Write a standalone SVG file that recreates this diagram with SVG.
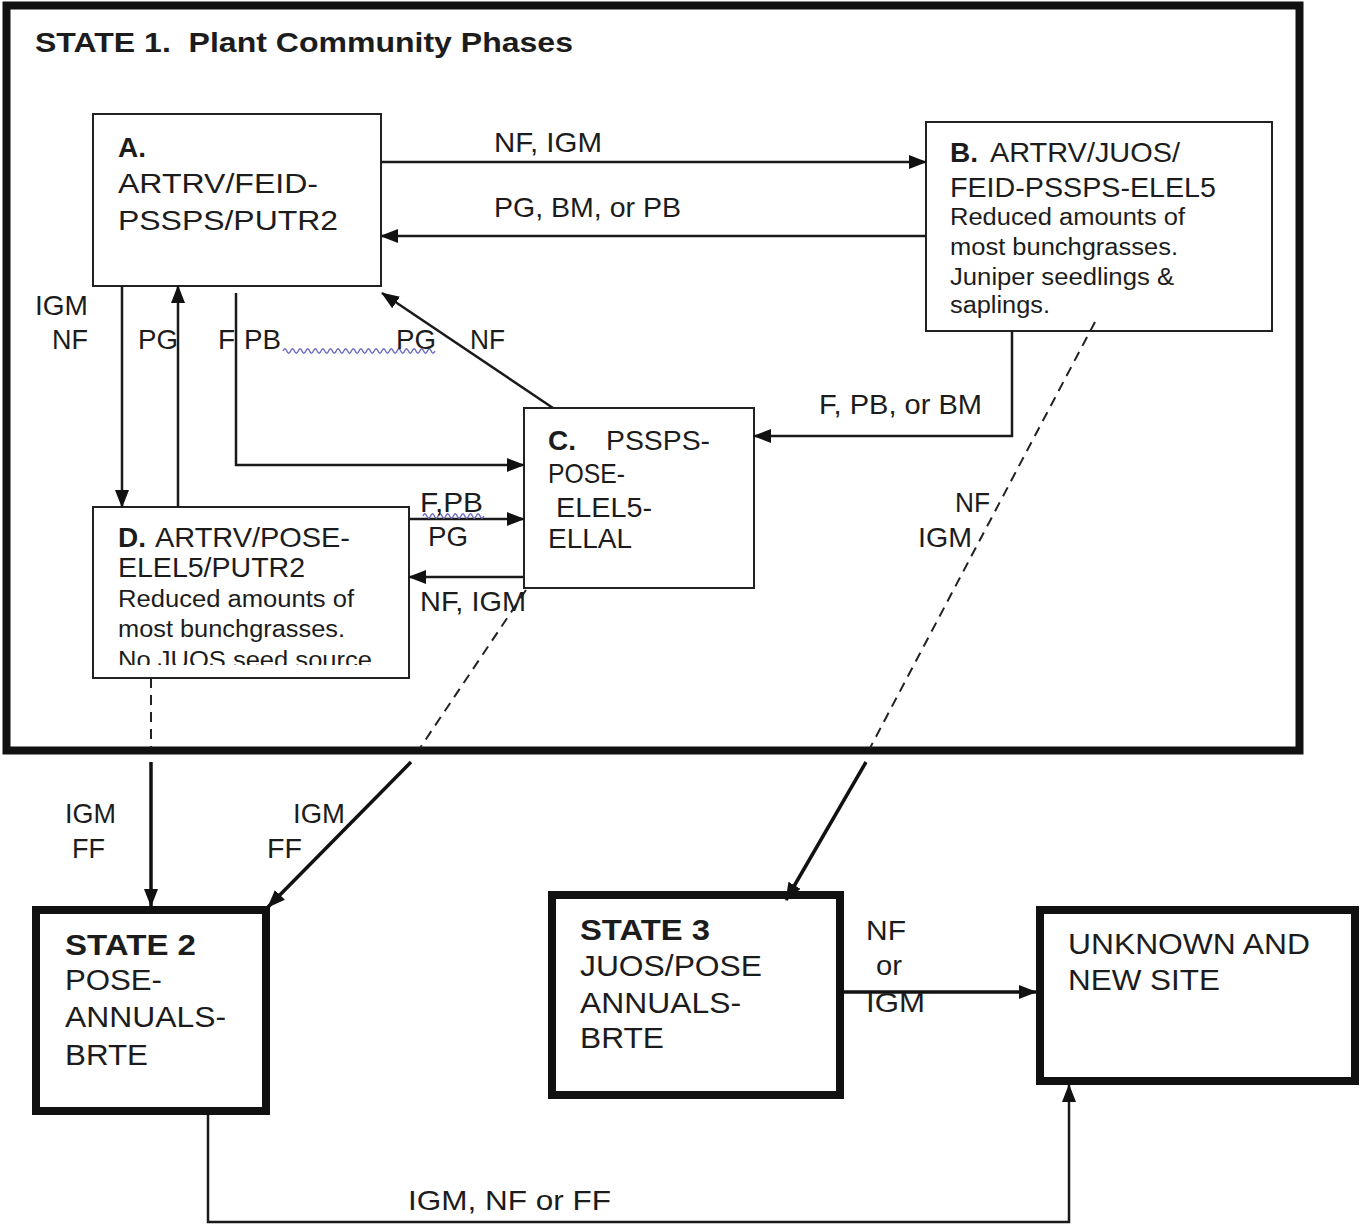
<svg xmlns="http://www.w3.org/2000/svg" width="1361" height="1230" viewBox="0 0 1361 1230">
<style>
.t{font-family:"Liberation Sans",Arial,sans-serif;font-size:28px;fill:#1c1c1c}
.b{font-weight:bold}
.s{font-size:23px}
.L{font-size:29px}
.box{fill:none;stroke:#222;stroke-width:2}
.thick{fill:none;stroke:#111;stroke-width:8}
.c{fill:none;stroke:#1a1a1a;stroke-width:2.5}
.c2{fill:none;stroke:#111;stroke-width:3.5}
.d{fill:none;stroke:#222;stroke-width:2;stroke-dasharray:10,7}
.w{fill:none;stroke:#6b6bc0;stroke-width:1.4}
</style>
<defs>
<marker id="ah" markerUnits="userSpaceOnUse" markerWidth="18" markerHeight="14" refX="17" refY="7" orient="auto">
<path d="M0,0 L18,7 L0,14 z" fill="#111"/>
</marker>
<clipPath id="clipD"><rect x="93" y="507" width="316" height="158"/></clipPath>
</defs>
<rect width="1361" height="1230" fill="#fff"/>

<g id="state1">
<rect class="thick" x="6.5" y="5.5" width="1293" height="745"/>
<text class="t b" x="35" y="52" font-size="27" xml:space="preserve" textLength="538" lengthAdjust="spacingAndGlyphs">STATE 1.  Plant Community Phases</text>
</g>

<g id="node-A">
<rect class="box" x="93" y="114" width="288" height="172"/>
<text class="t b" x="118" y="157">A.</text>
<text class="t" x="118" y="193" textLength="200" lengthAdjust="spacingAndGlyphs">ARTRV/FEID-</text>
<text class="t" x="118" y="230" textLength="220" lengthAdjust="spacingAndGlyphs">PSSPS/PUTR2</text>
</g>

<g id="node-B">
<rect class="box" x="926" y="122" width="346" height="209"/>
<text class="t b" x="950" y="162">B.</text>
<text class="t" x="990" y="162" textLength="190" lengthAdjust="spacingAndGlyphs">ARTRV/JUOS/</text>
<text class="t" x="950" y="197" textLength="266" lengthAdjust="spacingAndGlyphs">FEID-PSSPS-ELEL5</text>
<text class="t s" x="950" y="225" textLength="235" lengthAdjust="spacingAndGlyphs">Reduced amounts of</text>
<text class="t s" x="950" y="255" textLength="228" lengthAdjust="spacingAndGlyphs">most bunchgrasses.</text>
<text class="t s" x="950" y="285" textLength="224" lengthAdjust="spacingAndGlyphs">Juniper seedlings &amp;</text>
<text class="t s" x="950" y="313" textLength="100" lengthAdjust="spacingAndGlyphs">saplings.</text>
</g>

<g id="node-C">
<rect class="box" x="524" y="408" width="230" height="180"/>
<text class="t b" x="548" y="450">C.</text>
<text class="t" x="606" y="450" textLength="104" lengthAdjust="spacingAndGlyphs">PSSPS-</text>
<text class="t" x="548" y="483" textLength="77" lengthAdjust="spacingAndGlyphs">POSE-</text>
<text class="t" x="556" y="517" textLength="96" lengthAdjust="spacingAndGlyphs">ELEL5-</text>
<text class="t" x="548" y="548" textLength="84" lengthAdjust="spacingAndGlyphs">ELLAL</text>
</g>

<g id="node-D">
<rect class="box" x="93" y="507" width="316" height="171"/>
<text class="t b" x="118" y="547">D.</text>
<text class="t" x="155" y="547" textLength="195" lengthAdjust="spacingAndGlyphs">ARTRV/POSE-</text>
<text class="t" x="118" y="577" textLength="187" lengthAdjust="spacingAndGlyphs">ELEL5/PUTR2</text>
<text class="t s" x="118" y="607" textLength="236" lengthAdjust="spacingAndGlyphs">Reduced amounts of</text>
<text class="t s" x="118" y="637" textLength="227" lengthAdjust="spacingAndGlyphs">most bunchgrasses.</text>
<text class="t s" x="118" y="668" textLength="254" lengthAdjust="spacingAndGlyphs" clip-path="url(#clipD)">No JUOS seed source</text>
</g>

<g id="state2">
<rect class="thick" x="36" y="910" width="230" height="201"/>
<text class="t b L" x="65" y="955" textLength="131" lengthAdjust="spacingAndGlyphs">STATE 2</text>
<text class="t L" x="65" y="990" textLength="97" lengthAdjust="spacingAndGlyphs">POSE-</text>
<text class="t L" x="65" y="1027" textLength="161" lengthAdjust="spacingAndGlyphs">ANNUALS-</text>
<text class="t L" x="65" y="1065" textLength="83" lengthAdjust="spacingAndGlyphs">BRTE</text>
</g>

<g id="state3">
<rect class="thick" x="552" y="895" width="288" height="200"/>
<text class="t b L" x="580" y="940" textLength="130" lengthAdjust="spacingAndGlyphs">STATE 3</text>
<text class="t L" x="580" y="976" textLength="182" lengthAdjust="spacingAndGlyphs">JUOS/POSE</text>
<text class="t L" x="580" y="1013" textLength="161" lengthAdjust="spacingAndGlyphs">ANNUALS-</text>
<text class="t L" x="580" y="1048" textLength="84" lengthAdjust="spacingAndGlyphs">BRTE</text>
</g>

<g id="unknown">
<rect class="thick" x="1040" y="910" width="315" height="171"/>
<text class="t L" x="1068" y="954" textLength="242" lengthAdjust="spacingAndGlyphs">UNKNOWN AND</text>
<text class="t L" x="1068" y="990" textLength="152" lengthAdjust="spacingAndGlyphs">NEW SITE</text>
</g>

<g id="connectors">
<line class="c" x1="381" y1="162" x2="926" y2="162" marker-end="url(#ah)"/>
<line class="c" x1="926" y1="236" x2="381" y2="236" marker-end="url(#ah)"/>
<line class="c" x1="122" y1="286" x2="122" y2="507" marker-end="url(#ah)"/>
<line class="c" x1="178" y1="507" x2="178" y2="286" marker-end="url(#ah)"/>
<path class="c" d="M236,293 V465 H524" marker-end="url(#ah)"/>
<line class="c" x1="553" y1="408" x2="382" y2="293" marker-end="url(#ah)"/>
<path class="c" d="M1012,331 V436 H754" marker-end="url(#ah)"/>
<line class="c" x1="409" y1="519" x2="524" y2="519" marker-end="url(#ah)"/>
<line class="c" x1="524" y1="577" x2="409" y2="577" marker-end="url(#ah)"/>
<line class="d" x1="151" y1="678" x2="151" y2="748"/>
<line class="c2" x1="151" y1="762" x2="151" y2="906" marker-end="url(#ah)"/>
<line class="d" x1="526" y1="590" x2="420" y2="748"/>
<line class="c2" x1="411" y1="762" x2="268" y2="907" marker-end="url(#ah)"/>
<line class="d" x1="1095" y1="322" x2="870" y2="748"/>
<line class="c2" x1="866" y1="762" x2="786" y2="900" marker-end="url(#ah)"/>
<line class="c2" x1="844" y1="992" x2="1036" y2="992" marker-end="url(#ah)"/>
<path class="c" d="M208,1115 V1222 H1069 V1085" marker-end="url(#ah)"/>
<path class="w" d="M283,351 q1.9,-4.5 3.8,0 t3.8,0 t3.8,0 t3.8,0 t3.8,0 t3.8,0 t3.8,0 t3.8,0 t3.8,0 t3.8,0 t3.8,0 t3.8,0 t3.8,0 t3.8,0 t3.8,0 t3.8,0 t3.8,0 t3.8,0 t3.8,0 t3.8,0 t3.8,0 t3.8,0 t3.8,0 t3.8,0 t3.8,0 t3.8,0 t3.8,0 t3.8,0 t3.8,0 t3.8,0 t3.8,0 t3.8,0 t3.8,0 t3.8,0 t3.8,0 t3.8,0 t3.8,0 t3.8,0 t3.8,0 t3.8,0"/>
<path class="w" d="M423,516 q1.9,-4.5 3.8,0 t3.8,0 t3.8,0 t3.8,0 t3.8,0 t3.8,0 t3.8,0 t3.8,0 t3.8,0 t3.8,0 t3.8,0 t3.8,0 t3.8,0 t3.8,0 t3.8,0 t3.8,0"/>
</g>

<g id="labels">
<text class="t" x="494" y="152" textLength="108" lengthAdjust="spacingAndGlyphs">NF, IGM</text>
<text class="t" x="494" y="217" textLength="187" lengthAdjust="spacingAndGlyphs">PG, BM, or PB</text>
<text class="t" x="35" y="315" textLength="53" lengthAdjust="spacingAndGlyphs">IGM</text>
<text class="t" x="52" y="349" textLength="36" lengthAdjust="spacingAndGlyphs">NF</text>
<text class="t" x="138" y="349" textLength="40" lengthAdjust="spacingAndGlyphs">PG</text>
<text class="t" x="218" y="349">F</text>
<text class="t" x="244" y="349" textLength="37" lengthAdjust="spacingAndGlyphs">PB</text>
<text class="t" x="396" y="349" textLength="40" lengthAdjust="spacingAndGlyphs">PG</text>
<text class="t" x="470" y="349" textLength="35" lengthAdjust="spacingAndGlyphs">NF</text>
<text class="t" x="819" y="414" textLength="163" lengthAdjust="spacingAndGlyphs">F, PB, or BM</text>
<text class="t" x="420" y="512" textLength="63" lengthAdjust="spacingAndGlyphs">F,PB</text>
<text class="t" x="428" y="546" textLength="40" lengthAdjust="spacingAndGlyphs">PG</text>
<text class="t" x="420" y="611" textLength="106" lengthAdjust="spacingAndGlyphs">NF, IGM</text>
<text class="t" x="955" y="512" textLength="35" lengthAdjust="spacingAndGlyphs">NF</text>
<text class="t" x="918" y="547" textLength="54" lengthAdjust="spacingAndGlyphs">IGM</text>
<text class="t" x="65" y="823" textLength="51" lengthAdjust="spacingAndGlyphs">IGM</text>
<text class="t" x="72" y="858" textLength="33" lengthAdjust="spacingAndGlyphs">FF</text>
<text class="t" x="293" y="823" textLength="52" lengthAdjust="spacingAndGlyphs">IGM</text>
<text class="t" x="267" y="858" textLength="35" lengthAdjust="spacingAndGlyphs">FF</text>
<text class="t" x="866" y="940" textLength="40" lengthAdjust="spacingAndGlyphs">NF</text>
<text class="t" x="876" y="975" textLength="26" lengthAdjust="spacingAndGlyphs">or</text>
<text class="t" x="866" y="1012" textLength="59" lengthAdjust="spacingAndGlyphs">IGM</text>
<text class="t" x="408" y="1210" textLength="203" lengthAdjust="spacingAndGlyphs">IGM, NF or FF</text>
</g>
</svg>
